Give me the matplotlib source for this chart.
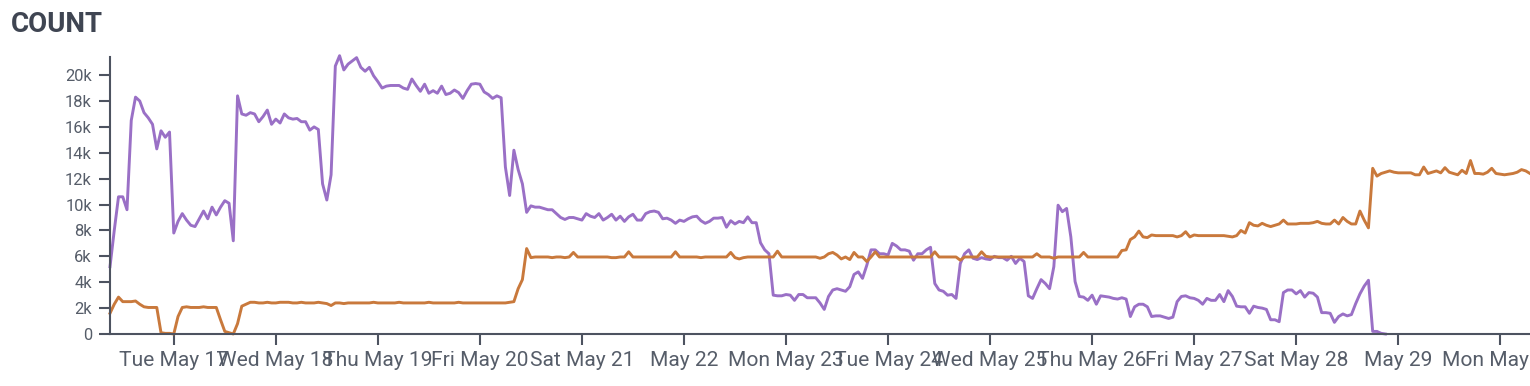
import numpy as np
import pandas as pd
import matplotlib
matplotlib.use("Agg")
import matplotlib.pyplot as plt

# hourly counts (in thousands), first sample at START
START = "2022-05-16 09:00"

purple_k = [
    5.2, 8.0, 10.6, 10.6, 9.6, 16.5, 18.3, 18.0, 17.1, 16.7,
    16.2, 14.3, 15.7, 15.2, 15.6, 7.8, 8.7, 9.3, 8.8, 8.4,
    8.3, 8.9, 9.5, 8.9, 9.8, 9.2, 9.8, 10.3, 10.1, 7.2,
    18.4, 17.0, 16.9, 17.1, 17.0, 16.4, 16.8, 17.3, 16.2, 16.6,
    16.3, 17.0, 16.7, 16.6, 16.65, 16.4, 16.4, 15.75, 16.0, 15.8,
    11.6, 10.35, 12.3, 20.7, 21.5, 20.4, 20.85, 21.1, 21.35, 20.6,
    20.3, 20.6, 19.95, 19.5, 19.0, 19.15, 19.2, 19.2, 19.2, 19.0,
    18.9, 19.7, 19.2, 18.75, 19.3, 18.6, 18.8, 18.6, 19.15, 18.5,
    18.6, 18.85, 18.65, 18.2, 18.8, 19.3, 19.35, 19.3, 18.7, 18.5,
    18.2, 18.4, 18.25, 12.9, 10.7, 14.2, 12.7, 11.6, 9.4, 9.9,
    9.8, 9.8, 9.7, 9.6, 9.6, 9.3, 9.0, 8.85, 9.0, 9.0,
    8.9, 8.8, 9.3, 9.1, 9.0, 9.3, 8.8, 9.0, 9.25, 8.8,
    9.1, 8.7, 9.05, 9.25, 8.8, 8.8, 9.3, 9.45, 9.5, 9.4,
    8.9, 8.95, 8.8, 8.55, 8.8, 8.7, 8.9, 9.05, 9.1, 8.75,
    8.55, 8.7, 8.95, 8.95, 9.0, 8.25, 8.75, 8.5, 8.7, 8.6,
    9.05, 8.6, 8.6, 7.05, 6.5, 6.2, 3.0, 2.95, 2.95, 3.05,
    3.0, 2.6, 3.05, 3.05, 2.8, 2.8, 2.8, 2.4, 1.9, 2.9,
    3.4, 3.5, 3.4, 3.3, 3.65, 4.6, 4.8, 4.3, 5.3, 6.5,
    6.5, 6.2, 6.2, 6.1, 7.0, 6.8, 6.5, 6.5, 6.4, 5.7,
    6.2, 6.2, 6.5, 6.7, 3.9, 3.4, 3.3, 3.0, 3.05, 2.75,
    5.45, 6.2, 6.5, 5.85, 5.75, 5.9, 5.8, 5.75, 6.0, 5.9,
    5.9, 5.7, 6.0, 5.45, 5.85, 5.6, 2.95, 2.75, 3.5, 4.2,
    3.9, 3.5, 5.2, 9.95, 9.45, 9.7, 7.5, 4.05, 2.9, 2.85,
    2.6, 3.0, 2.3, 2.95, 2.9, 2.85, 2.75, 2.7, 2.8, 2.7,
    1.35, 2.1, 2.3, 2.3, 2.1, 1.35, 1.4, 1.4, 1.3, 1.2,
    1.3, 2.5, 2.9, 2.95, 2.8, 2.75, 2.6, 2.3, 2.75, 2.6,
    2.6, 3.05, 2.5, 3.35, 2.9, 2.15, 2.1, 2.1, 1.6, 2.15,
    2.05, 2.0, 1.9, 1.1, 1.1, 0.95, 3.2, 3.4, 3.4, 3.1,
    3.35, 2.85, 3.2, 3.15, 2.85, 1.65, 1.65, 1.6, 0.9, 1.35,
    1.55, 1.4, 1.5, 2.35, 3.1, 3.7, 4.15, 0.2, 0.2, 0.05,
    0.0,
]

orange_k = [
    1.6, 2.3, 2.85, 2.5, 2.5, 2.5, 2.55, 2.3, 2.1, 2.05,
    2.05, 2.05, 0.1, 0.05, 0.05, 0.0, 1.35, 2.05, 2.1, 2.05,
    2.05, 2.05, 2.1, 2.05, 2.05, 2.05, 1.1, 0.2, 0.1, 0.0,
    0.8, 2.15, 2.3, 2.45, 2.45, 2.4, 2.4, 2.45, 2.4, 2.4,
    2.45, 2.45, 2.45, 2.4, 2.4, 2.45, 2.4, 2.4, 2.4, 2.45,
    2.4, 2.35, 2.2, 2.4, 2.4, 2.35, 2.4, 2.4, 2.4, 2.4,
    2.4, 2.4, 2.45, 2.4, 2.4, 2.4, 2.4, 2.4, 2.45, 2.4,
    2.4, 2.4, 2.4, 2.4, 2.4, 2.45, 2.4, 2.4, 2.4, 2.4,
    2.4, 2.4, 2.45, 2.4, 2.4, 2.4, 2.4, 2.4, 2.4, 2.4,
    2.4, 2.4, 2.4, 2.4, 2.45, 2.5, 3.5, 4.2, 6.6, 5.9,
    5.95, 5.95, 5.95, 5.95, 5.9, 5.95, 5.95, 5.9, 5.95, 6.3,
    5.95, 5.95, 5.95, 5.95, 5.95, 5.95, 5.95, 5.95, 5.9, 5.9,
    5.95, 5.95, 6.35, 5.95, 5.95, 5.95, 5.95, 5.95, 5.95, 5.95,
    5.95, 5.95, 5.95, 6.35, 5.95, 5.95, 5.95, 5.95, 5.95, 5.9,
    5.95, 5.95, 5.95, 5.95, 5.95, 5.95, 6.3, 5.9, 5.8, 5.9,
    5.95, 5.95, 5.95, 5.95, 5.95, 5.95, 5.95, 6.4, 5.95, 5.95,
    5.95, 5.95, 5.95, 5.95, 5.95, 5.95, 5.95, 5.85, 5.95, 6.2,
    6.3, 6.1, 5.8, 5.95, 5.75, 6.3, 5.95, 5.95, 5.6, 5.95,
    6.35, 5.95, 5.95, 5.95, 5.95, 5.95, 5.95, 5.95, 5.95, 5.95,
    5.95, 5.95, 5.95, 5.95, 6.35, 5.95, 5.95, 5.95, 5.95, 5.95,
    5.7, 5.95, 5.95, 5.95, 5.95, 6.35, 6.0, 5.95, 5.95, 5.95,
    5.95, 5.95, 5.95, 5.95, 5.95, 5.95, 5.95, 5.95, 6.2, 5.95,
    5.95, 5.95, 5.85, 5.95, 5.95, 5.95, 5.95, 5.95, 5.95, 6.3,
    5.95, 5.95, 5.95, 5.95, 5.95, 5.95, 5.95, 5.95, 6.45, 6.5,
    7.3, 7.5, 7.95, 7.5, 7.45, 7.65, 7.6, 7.6, 7.6, 7.6,
    7.6, 7.5, 7.6, 7.9, 7.5, 7.65, 7.6, 7.6, 7.6, 7.6,
    7.6, 7.6, 7.6, 7.55, 7.5, 7.6, 8.0, 7.8, 8.6, 8.4,
    8.35, 8.55, 8.4, 8.3, 8.4, 8.5, 8.8, 8.5, 8.5, 8.5,
    8.55, 8.55, 8.55, 8.6, 8.7, 8.55, 8.5, 8.5, 8.8, 8.5,
    9.0, 8.7, 8.5, 8.5, 9.5, 8.8, 8.2, 12.8, 12.2, 12.4,
    12.5, 12.6, 12.5, 12.45, 12.45, 12.45, 12.45, 12.3, 12.3, 12.9,
    12.4, 12.5, 12.6, 12.45, 12.85, 12.5, 12.4, 12.3, 12.65, 12.4,
    13.4, 12.4, 12.4, 12.35, 12.5, 12.8, 12.4, 12.35, 12.3, 12.35,
    12.4, 12.5, 12.7, 12.6, 12.4,
]

tick_days = ["2022-05-17", "2022-05-18", "2022-05-19", "2022-05-20",
             "2022-05-21", "2022-05-22", "2022-05-23", "2022-05-24",
             "2022-05-25", "2022-05-26", "2022-05-27", "2022-05-28",
             "2022-05-29", "2022-05-30"]
tick_labels = ["Tue May 17", "Wed May 18", "Thu May 19", "Fri May 20",
               "Sat May 21", "May 22", "Mon May 23", "Tue May 24",
               "Wed May 25", "Thu May 26", "Fri May 27", "Sat May 28",
               "May 29", "Mon May 30"]
y_ticks = [0, 2000, 4000, 6000, 8000, 10000, 12000, 14000, 16000, 18000, 20000]
y_labels = ["0", "2k", "4k", "6k", "8k", "10k", "12k", "14k", "16k", "18k", "20k"]

PURPLE = "#9a70c6"
ORANGE = "#c9793c"
AXIS = "#4d5360"
TEXT = "#565d69"

plt.rcParams["font.family"] = ["Roboto", "DejaVu Sans"]

W, H = 1530, 386
fig = plt.figure(figsize=(W / 100, H / 100), dpi=100)
ax = fig.add_axes([110 / W, 1 - 334 / H, 1 - 110 / W, (334 - 57) / H])

times = pd.date_range(START, periods=len(orange_k), freq="h")
ax.plot(times[:len(purple_k)], np.array(purple_k) * 1000, color=PURPLE,
        lw=2.1, solid_joinstyle="round", clip_on=False)
ax.plot(times, np.array(orange_k) * 1000, color=ORANGE,
        lw=2.1, solid_joinstyle="round", clip_on=False)

ax.set_xlim(times[0], times[-1])
ax.set_ylim(0, 21400)
ax.set_yticks(y_ticks)
ax.set_yticklabels(y_labels)
ax.set_xticks(pd.to_datetime(tick_days))
ax.set_xticklabels(tick_labels)

for side in ("top", "right"):
    ax.spines[side].set_visible(False)
for side in ("left", "bottom"):
    ax.spines[side].set_color(AXIS)
    ax.spines[side].set_linewidth(1.5)
ax.tick_params(axis="both", colors=AXIS, width=1.5, length=8, direction="out")
ax.tick_params(axis="y", labelsize=11.9, labelcolor=TEXT, pad=5)
ax.tick_params(axis="x", labelsize=15.1, labelcolor=TEXT, pad=4)

fig.text(11 / W, 1 - 32 / H, "COUNT", fontsize=20, fontweight="bold",
         color="#3f4552", va="baseline", ha="left")

fig.savefig("out.png", dpi=100)
